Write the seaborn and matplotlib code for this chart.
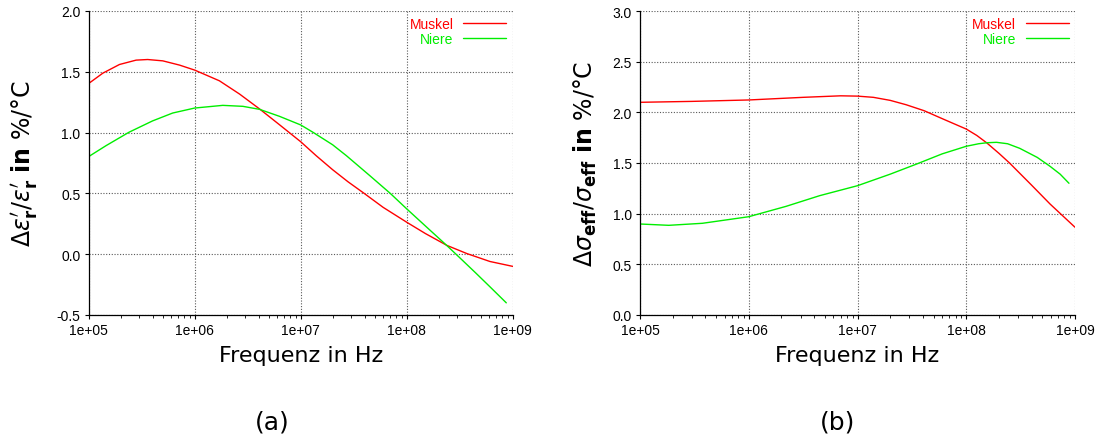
import numpy as np
import pandas as pd
import matplotlib
matplotlib.use("Agg")
import matplotlib.pyplot as plt
import seaborn as sns
from matplotlib.ticker import FixedLocator, FixedFormatter, LogLocator, NullFormatter

# ---------------- data ----------------
series_names = ["Muskel", "Niere"]
series_colors = ["#ff0000", "#00ee00"]

# (a) relative temperature coefficient of eps'_r
eps_muskel_f = [1e5, 1.36e5, 1.95e5, 2.8e5, 3.6e5, 5e5, 7.2e5, 1e6, 1.71e6, 2.65e6, 4.1e6,
                6.3e6, 1e7, 1.4e7, 2e7, 2.8e7, 3.9e7, 6e7, 1e8, 1.5e8, 2.4e8, 3.7e8, 6.1e8, 1e9]
eps_muskel_v = [1.404, 1.489, 1.56, 1.596, 1.601, 1.59, 1.555, 1.514, 1.426, 1.317, 1.194,
                1.065, 0.925, 0.81, 0.695, 0.595, 0.505, 0.385, 0.263, 0.17, 0.072, 0.005, -0.06, -0.10]
eps_niere_f = [1e5, 1.46e5, 2.4e5, 4e5, 6.2e5, 1e6, 1.84e6, 2.85e6, 4.1e6, 6.3e6, 1e7, 1.32e7,
               2e7, 2.7e7, 4.5e7, 7e7, 1e8, 1.6e8, 2.4e8, 3.2e8, 4.5e8, 6.1e8, 8.7e8]
eps_niere_v = [0.803, 0.893, 1.003, 1.096, 1.161, 1.202, 1.224, 1.216, 1.191, 1.134, 1.063, 1.0,
               0.90, 0.81, 0.645, 0.50, 0.373, 0.21, 0.07, -0.033, -0.156, -0.268, -0.40]

# (b) relative temperature coefficient of sigma_eff
sig_muskel_f = [1e5, 3e5, 1e6, 3.16e6, 7e6, 1e7, 1.4e7, 2e7, 2.8e7, 4.1e7, 5.8e7, 7.5e7, 1e8,
                1.25e8, 1.55e8, 2e8, 2.5e8, 4e8, 5.9e8, 1e9]
sig_muskel_v = [2.099, 2.108, 2.122, 2.148, 2.163, 2.16, 2.148, 2.118, 2.075, 2.016, 1.945, 1.893,
                1.835, 1.772, 1.697, 1.595, 1.50, 1.28, 1.095, 0.866]
sig_niere_f = [1e5, 1.84e5, 3.75e5, 1e6, 2.2e6, 4.5e6, 1e7, 2e7, 3.5e7, 6e7, 1e8, 1.3e8, 1.55e8,
               1.9e8, 2.4e8, 3.1e8, 4.5e8, 5.9e8, 7.3e8, 8.8e8]
sig_niere_v = [0.898, 0.885, 0.905, 0.97, 1.072, 1.178, 1.276, 1.39, 1.49, 1.59, 1.665, 1.69, 1.70,
               1.704, 1.69, 1.645, 1.555, 1.467, 1.39, 1.30]

x_ticks = [1e5, 1e6, 1e7, 1e8, 1e9]
x_tick_labels = ["1e+05", "1e+06", "1e+07", "1e+08", "1e+09"]
yticks_a = [-0.5, 0.0, 0.5, 1.0, 1.5, 2.0]
yticks_b = [0.0, 0.5, 1.0, 1.5, 2.0, 2.5, 3.0]

xlabel = "Frequenz in Hz"
ylabel_a = r"$\Delta\varepsilon^{\prime}_{\mathbf{r}}/\varepsilon^{\prime}_{\mathbf{r}}$ $\mathbf{in}$ %/°C"
ylabel_b = r"$\Delta\sigma_{\mathbf{eff}}/\sigma_{\mathbf{eff}}$ $\mathbf{in}$ %/°C"
captions = ["(a)", "(b)"]

# ---------------- styling ----------------
sns.set_style("ticks")
plt.rcParams["font.family"] = ["DejaVu Sans"]
plt.rcParams["mathtext.fontset"] = "dejavusans"
plt.rcParams["axes.unicode_minus"] = False
for k in ["text.color", "axes.labelcolor", "xtick.color", "ytick.color"]:
    plt.rcParams[k] = "black"

fig = plt.figure(figsize=(11.01, 4.39), dpi=100)
W, H = 1101, 439
ax_a = fig.add_axes([88.7 / W, 1 - 316 / H, (512.7 - 88.7) / W, (316 - 12) / H])
ax_b = fig.add_axes([640 / W, 1 - 316 / H, (1075 - 640) / W, (316 - 12) / H])


def make_df(f1, v1, f2, v2):
    return pd.concat([
        pd.DataFrame({"f": f1, "v": v1, "s": series_names[0]}),
        pd.DataFrame({"f": f2, "v": v2, "s": series_names[1]}),
    ], ignore_index=True)


panels = [
    (ax_a, make_df(eps_muskel_f, eps_muskel_v, eps_niere_f, eps_niere_v), yticks_a, ylabel_a, -0.150),
    (ax_b, make_df(sig_muskel_f, sig_muskel_v, sig_niere_f, sig_niere_v), yticks_b, ylabel_b, -0.126),
]

for ax, df, yt, yl, ylx in panels:
    sns.lineplot(data=df, x="f", y="v", hue="s", palette=series_colors,
                 linewidth=1.0, ax=ax, sort=True, estimator=None)
    ax.set_xscale("log")
    ax.set_xlim(1e5, 1e9)
    ax.set_ylim(yt[0], yt[-1])
    ax.xaxis.set_major_locator(FixedLocator(x_ticks))
    ax.xaxis.set_major_formatter(FixedFormatter(x_tick_labels))
    ax.xaxis.set_minor_locator(LogLocator(base=10, subs=np.arange(2, 10)))
    ax.xaxis.set_minor_formatter(NullFormatter())
    ax.set_yticks(yt)
    ax.set_yticklabels([f"{v:.1f}" for v in yt])
    for lab in ax.get_xticklabels() + ax.get_yticklabels():
        lab.set_fontfamily("Liberation Sans")
        lab.set_fontsize(10)
        lab.set_color("black")
    ax.tick_params(axis="both", which="major", direction="out", length=3, width=0.8,
                   color="black", pad=3)
    ax.tick_params(axis="x", which="minor", direction="out", length=1.8, width=0.6,
                   color="black")
    ax.grid(True, which="major", linestyle=(0, (1, 1.5)), linewidth=0.8, color="0.35")
    for sp in ["top", "right"]:
        ax.spines[sp].set_visible(False)
    for sp in ["left", "bottom"]:
        ax.spines[sp].set_linewidth(0.9)
        ax.spines[sp].set_color("black")
    ax.set_xlabel(xlabel, fontsize=16, color="black")
    ax.xaxis.set_label_coords(0.5, -0.100)
    ax.set_ylabel(yl, fontsize=17, color="black")
    ax.yaxis.set_label_coords(ylx, 0.5)
    ax.yaxis.label.set_va("center")
    leg = ax.legend(loc="upper right", frameon=False, markerfirst=False,
                    prop={"family": "Liberation Sans", "size": 10},
                    handlelength=3.1, handletextpad=0.7, labelspacing=0.05,
                    borderaxespad=0.25, labelcolor="linecolor", borderpad=0.2)
    for h in leg.get_lines():
        h.set_linewidth(1.0)

fig.text(272 / W, 1 - 423 / H, captions[0], fontsize=18, ha="center", va="center")
fig.text(838 / W, 1 - 423 / H, captions[1], fontsize=18, ha="center", va="center")

fig.savefig("out.png", dpi=100)
